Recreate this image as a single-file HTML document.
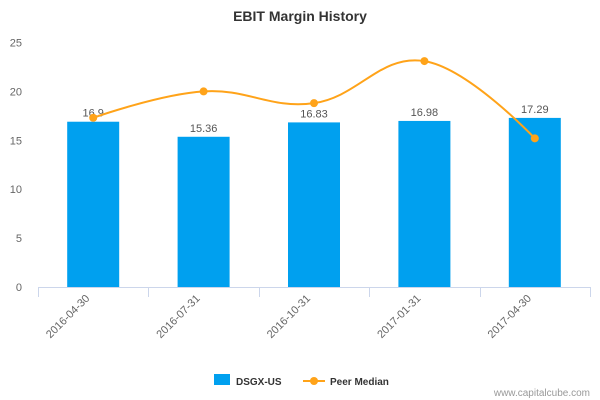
<!DOCTYPE html>
<html><head><meta charset="utf-8"><style>
body{margin:0;background:#fff;font-family:"Liberation Sans",sans-serif}
svg{display:block}
</style></head><body>
<svg id="c" width="600" height="400" xmlns="http://www.w3.org/2000/svg">
<text x="300" y="21" text-anchor="middle" font-size="14" font-weight="bold" fill="#333">EBIT Margin History</text>
<g id="yaxis"></g>
<g id="xaxis"></g>
<g id="bars"></g>
<g id="line"></g>
<g>
<g>
<rect x="214" y="374" width="16" height="11" fill="#00a0ef"/>
<text x="236" y="385" font-size="10" font-weight="bold" fill="#333">DSGX-US</text></g>
<g>
<line x1="303" y1="381" x2="325" y2="381" stroke="#ffa319" stroke-width="2"/>
<circle cx="314" cy="381" r="4" fill="#ffa319"/>
<text x="330" y="385" font-size="10" font-weight="bold" fill="#333">Peer Median</text></g>
</g>
<text x="590" y="396" text-anchor="end" font-size="10" fill="#999">www.capitalcube.com</text>
</svg>
<script>
const categories=["2016-04-30","2016-07-31","2016-10-31","2017-01-31","2017-04-30"];
const barValues=[16.9,15.36,16.83,16.98,17.29];
const barLabels=["16.9","15.36","16.83","16.98","17.29"];
const peerValues=[17.3,20.0,18.8,23.1,15.2];
const yTicks=[0,5,10,15,20,25];
const NS="http://www.w3.org/2000/svg";
const L=38,R=590,Y0=287,PU=9.78;
const step=(R-L)/categories.length;
const xs=i=>L+step*(i+0.5);
const ys=v=>Y0-v*PU;
function mk(t,a,p){const e=document.createElementNS(NS,t);for(const k in a)e.setAttribute(k,a[k]);p.appendChild(e);return e;}
const ya=document.getElementById('yaxis'),xa=document.getElementById('xaxis'),bg=document.getElementById('bars'),lg=document.getElementById('line');
yTicks.forEach(v=>{const t=mk('text',{x:22,y:ys(v)+4,'text-anchor':'end','font-size':11,fill:'#666'},ya);t.textContent=v;

});
const ax=mk('line',{x1:L,y1:Y0+0.5,x2:R,y2:Y0+0.5,stroke:'#ccd6eb'},xa);


for(let i=0;i<=categories.length;i++){const x=Math.round(L+step*i)+0.5;mk('line',{x1:x,y1:Y0,x2:x,y2:Y0+10,stroke:'#ccd6eb'},xa);}
categories.forEach((c,i)=>{const x=xs(i)-3;const y=Y0+12;const t=mk('text',{x:x,y:y,'text-anchor':'end','font-size':11,fill:'#666',transform:`rotate(-45 ${x} ${y})`},xa);t.textContent=c;

});
barValues.forEach((v,i)=>{const r=mk('rect',{x:xs(i)-26,y:ys(v),width:52,height:Y0-ys(v),fill:'#00a0ef'},bg);


const t=mk('text',{x:xs(i),y:ys(v)-5,'text-anchor':'middle','font-size':11,fill:'#555'},bg);t.textContent=barLabels[i];

});
const pts=peerValues.map((v,i)=>[xs(i),ys(v)]);
let d=`M${pts[0][0]},${pts[0][1]}`;const sm=1.5;
for(let i=0;i<pts.length-1;i++){const p0=pts[i-1]||pts[i],p1=pts[i],p2=pts[i+1],p3=pts[i+2]||p2;
const c1=[p1[0]+(p2[0]-p0[0])/(2*sm+2)*(i==0?0:1),p1[1]+(p2[1]-p0[1])/(2*sm+2)*(i==0?0:1)];
const c2=[p2[0]-(p3[0]-p1[0])/(2*sm+2)*(i==pts.length-2?0:1),p2[1]-(p3[1]-p1[1])/(2*sm+2)*(i==pts.length-2?0:1)];
d+=` C${c1[0]},${c1[1]} ${c2[0]},${c2[1]} ${p2[0]},${p2[1]}`;}
const path=mk('path',{d:d,fill:'none',stroke:'#ffa319','stroke-width':2},lg);


pts.forEach((p,i)=>{const c=mk('circle',{cx:p[0],cy:p[1],r:4,fill:'#ffa319'},lg);

});
</script>
</body></html>
